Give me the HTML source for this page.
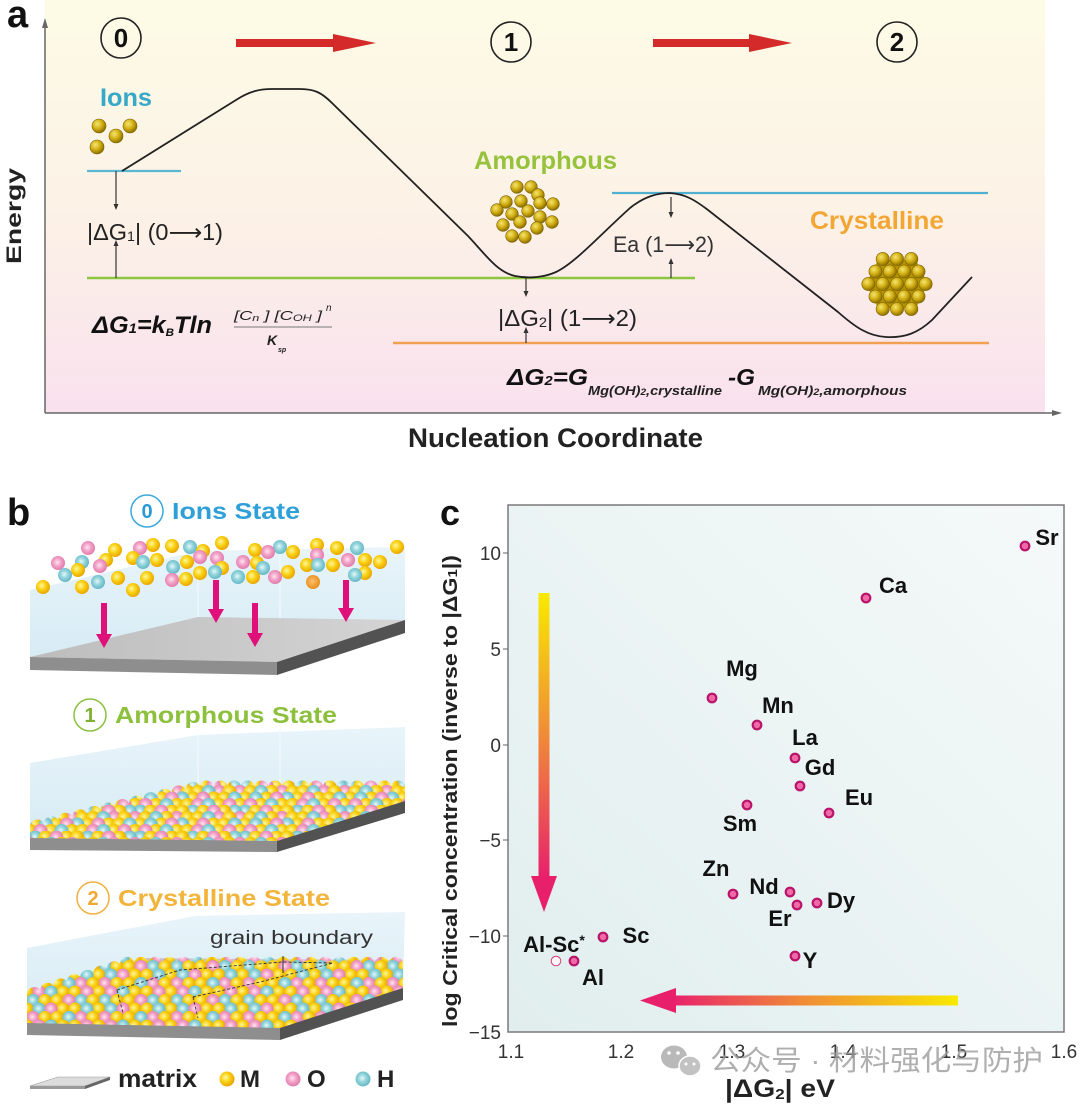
<!DOCTYPE html>
<html><head><meta charset="utf-8">
<style>
html,body{margin:0;padding:0;background:#fff;}
svg{display:block;}
text{font-family:"Liberation Sans","Noto Sans CJK SC",sans-serif;}
</style></head><body>
<svg width="1080" height="1108" viewBox="0 0 1080 1108" xmlns="http://www.w3.org/2000/svg">
<defs>
<linearGradient id="bgA" x1="0" y1="0" x2="0" y2="1">
<stop offset="0" stop-color="#fdfbe6"/>
<stop offset="0.5" stop-color="#fcf2e6"/>
<stop offset="1" stop-color="#f9e1ee"/>
</linearGradient>
<linearGradient id="bgC" x1="0" y1="1" x2="1" y2="0">
<stop offset="0" stop-color="#e1eeee"/>
<stop offset="1" stop-color="#f5f9f9"/>
</linearGradient>
<linearGradient id="glass" x1="0" y1="0" x2="0" y2="1">
<stop offset="0" stop-color="#e8f4fa"/>
<stop offset="1" stop-color="#d6ebf4"/>
</linearGradient>
<linearGradient id="slabTop" x1="0" y1="0" x2="1" y2="0">
<stop offset="0" stop-color="#bdbdbd"/>
<stop offset="1" stop-color="#d4d4d4"/>
</linearGradient>
<linearGradient id="vArrow" x1="0" y1="0" x2="0" y2="1">
<stop offset="0" stop-color="#f8ea00"/>
<stop offset="0.5" stop-color="#f08a38"/>
<stop offset="1" stop-color="#e8206c"/>
</linearGradient>
<linearGradient id="hArrow" x1="0" y1="0" x2="1" y2="0">
<stop offset="0" stop-color="#e8206c"/>
<stop offset="0.45" stop-color="#f08a38"/>
<stop offset="1" stop-color="#f8ea00"/>
</linearGradient>
<radialGradient id="gold" cx="0.38" cy="0.35" r="0.65">
<stop offset="0" stop-color="#f4e670"/>
<stop offset="0.55" stop-color="#d2ae12"/>
<stop offset="1" stop-color="#8c7000"/>
</radialGradient>
<radialGradient id="yb" cx="0.4" cy="0.4" r="0.6">
<stop offset="0" stop-color="#fff6a0"/>
<stop offset="0.5" stop-color="#f9d215"/>
<stop offset="1" stop-color="#eaa600"/>
</radialGradient>
<radialGradient id="pb" cx="0.45" cy="0.45" r="0.6">
<stop offset="0" stop-color="#fde6f0"/>
<stop offset="0.45" stop-color="#f3a2c8"/>
<stop offset="1" stop-color="#dc74a6"/>
</radialGradient>
<radialGradient id="cb" cx="0.45" cy="0.45" r="0.6">
<stop offset="0" stop-color="#e6f8f8"/>
<stop offset="0.45" stop-color="#92d4dc"/>
<stop offset="1" stop-color="#5eb2c0"/>
</radialGradient>
<radialGradient id="ob" cx="0.45" cy="0.45" r="0.6">
<stop offset="0" stop-color="#fbc070"/>
<stop offset="1" stop-color="#e88a10"/>
</radialGradient>

<!-- amorphous ball pattern -->
<pattern id="pa" patternUnits="userSpaceOnUse" x="30" y="779" width="105" height="26">
<g fill="url(#yb)"><circle cx="0" cy="0" r="7"/><circle cx="21" cy="0" r="7"/><circle cx="42" cy="0" r="7"/><circle cx="52.5" cy="0" r="7"/><circle cx="84" cy="0" r="7"/><circle cx="105" cy="0" r="7"/></g>
<g fill="url(#pb)"><circle cx="10.5" cy="0" r="7"/><circle cx="63" cy="0" r="7"/><circle cx="94.5" cy="0" r="7"/></g>
<g fill="url(#cb)"><circle cx="31.5" cy="0" r="7"/><circle cx="73.5" cy="0" r="7"/></g>

<g fill="url(#cb)"><circle cx="5.25" cy="6.5" r="7"/><circle cx="57.75" cy="6.5" r="7"/><circle cx="99.75" cy="6.5" r="7"/><circle cx="-5.25" cy="6.5" r="7"/></g>
<g fill="url(#yb)"><circle cx="15.75" cy="6.5" r="7"/><circle cx="36.75" cy="6.5" r="7"/><circle cx="47.25" cy="6.5" r="7"/><circle cx="68.25" cy="6.5" r="7"/><circle cx="89.25" cy="6.5" r="7"/></g>
<g fill="url(#pb)"><circle cx="26.25" cy="6.5" r="7"/><circle cx="78.75" cy="6.5" r="7"/></g>

<g fill="url(#pb)"><circle cx="0" cy="13" r="7"/><circle cx="42" cy="13" r="7"/><circle cx="84" cy="13" r="7"/><circle cx="105" cy="13" r="7"/></g>
<g fill="url(#yb)"><circle cx="10.5" cy="13" r="7"/><circle cx="31.5" cy="13" r="7"/><circle cx="52.5" cy="13" r="7"/><circle cx="63" cy="13" r="7"/><circle cx="94.5" cy="13" r="7"/></g>
<g fill="url(#cb)"><circle cx="21" cy="13" r="7"/><circle cx="73.5" cy="13" r="7"/></g>

<g fill="url(#yb)"><circle cx="5.25" cy="19.5" r="7"/><circle cx="26.25" cy="19.5" r="7"/><circle cx="57.75" cy="19.5" r="7"/><circle cx="78.75" cy="19.5" r="7"/><circle cx="89.25" cy="19.5" r="7"/></g>
<g fill="url(#cb)"><circle cx="15.75" cy="19.5" r="7"/><circle cx="47.25" cy="19.5" r="7"/><circle cx="99.75" cy="19.5" r="7"/><circle cx="-5.25" cy="19.5" r="7"/></g>
<g fill="url(#pb)"><circle cx="36.75" cy="19.5" r="7"/><circle cx="68.25" cy="19.5" r="7"/></g>

<g fill="url(#yb)"><circle cx="0" cy="26" r="7"/><circle cx="21" cy="26" r="7"/><circle cx="42" cy="26" r="7"/><circle cx="52.5" cy="26" r="7"/><circle cx="84" cy="26" r="7"/><circle cx="105" cy="26" r="7"/></g>
<g fill="url(#pb)"><circle cx="10.5" cy="26" r="7"/><circle cx="63" cy="26" r="7"/><circle cx="94.5" cy="26" r="7"/></g>
<g fill="url(#cb)"><circle cx="31.5" cy="26" r="7"/><circle cx="73.5" cy="26" r="7"/></g>
</pattern>

<!-- crystalline ball pattern -->
<pattern id="pc" patternUnits="userSpaceOnUse" x="27" y="958" width="72" height="34">
<g fill="url(#yb)"><circle cx="0" cy="0" r="6.5"/><circle cx="36" cy="0" r="6.5"/><circle cx="48" cy="0" r="6.5"/><circle cx="72" cy="0" r="6.5"/></g>
<g fill="url(#pb)"><circle cx="12" cy="0" r="6.5"/><circle cx="60" cy="0" r="6.5"/></g>
<g fill="url(#cb)"><circle cx="24" cy="0" r="6.5"/></g>

<g fill="url(#cb)"><circle cx="6" cy="8.5" r="6.5"/><circle cx="54" cy="8.5" r="6.5"/></g>
<g fill="url(#yb)"><circle cx="18" cy="8.5" r="6.5"/><circle cx="30" cy="8.5" r="6.5"/><circle cx="66" cy="8.5" r="6.5"/><circle cx="-6" cy="8.5" r="6.5"/></g>
<g fill="url(#pb)"><circle cx="42" cy="8.5" r="6.5"/></g>

<g fill="url(#yb)"><circle cx="0" cy="17" r="6.5"/><circle cx="36" cy="17" r="6.5"/><circle cx="48" cy="17" r="6.5"/><circle cx="72" cy="17" r="6.5"/></g>
<g fill="url(#cb)"><circle cx="12" cy="17" r="6.5"/><circle cx="60" cy="17" r="6.5"/></g>
<g fill="url(#pb)"><circle cx="24" cy="17" r="6.5"/></g>

<g fill="url(#pb)"><circle cx="6" cy="25.5" r="6.5"/><circle cx="54" cy="25.5" r="6.5"/></g>
<g fill="url(#yb)"><circle cx="18" cy="25.5" r="6.5"/><circle cx="30" cy="25.5" r="6.5"/><circle cx="66" cy="25.5" r="6.5"/><circle cx="-6" cy="25.5" r="6.5"/></g>
<g fill="url(#cb)"><circle cx="42" cy="25.5" r="6.5"/></g>

<g fill="url(#yb)"><circle cx="0" cy="34" r="6.5"/><circle cx="36" cy="34" r="6.5"/><circle cx="48" cy="34" r="6.5"/><circle cx="72" cy="34" r="6.5"/></g>
<g fill="url(#pb)"><circle cx="12" cy="34" r="6.5"/><circle cx="60" cy="34" r="6.5"/></g>
<g fill="url(#cb)"><circle cx="24" cy="34" r="6.5"/></g>
</pattern>
</defs>

<rect width="1080" height="1108" fill="#fff"/>

<!-- ================= PANEL A ================= -->
<rect x="45" y="0" width="1000" height="413" fill="url(#bgA)"/>
<line x1="45" y1="413" x2="45" y2="26" stroke="#666" stroke-width="1.5"/>
<polygon points="42,28 48,28 45,18" fill="#666"/>
<line x1="45" y1="413" x2="1054" y2="413" stroke="#666" stroke-width="1.5"/>
<polygon points="1052,410 1052,416 1062,413" fill="#666"/>

<text x="7" y="27" font-size="38" font-weight="bold" fill="#111">a</text>

<circle cx="121" cy="38" r="20" fill="none" stroke="#222" stroke-width="1.6"/>
<text x="121" y="47" font-size="26" font-weight="bold" text-anchor="middle" fill="#111">0</text>
<circle cx="511" cy="42" r="20" fill="none" stroke="#222" stroke-width="1.6"/>
<text x="511" y="51" font-size="26" font-weight="bold" text-anchor="middle" fill="#111">1</text>
<circle cx="897" cy="42" r="20" fill="none" stroke="#222" stroke-width="1.6"/>
<text x="897" y="51" font-size="26" font-weight="bold" text-anchor="middle" fill="#111">2</text>

<rect x="236" y="39" width="99" height="8" fill="#d42a2a"/>
<polygon points="333,34 376,43 333,52" fill="#d42a2a"/>
<rect x="653" y="39" width="98" height="8" fill="#d42a2a"/>
<polygon points="749,34 792,43 749,52" fill="#d42a2a"/>

<text x="100" y="106" font-size="25" font-weight="bold" fill="#36a8c8" textLength="52" lengthAdjust="spacingAndGlyphs">Ions</text>
<g stroke="#7a6000" stroke-width="0.6" fill="url(#gold)">
<circle cx="99" cy="126" r="7"/>
<circle cx="130" cy="126" r="7"/>
<circle cx="116" cy="136" r="7"/>
<circle cx="97" cy="147" r="7"/>
</g>

<line x1="87" y1="171" x2="181" y2="171" stroke="#5bb8d4" stroke-width="2.2"/>
<line x1="87" y1="278" x2="695" y2="278" stroke="#8dc63f" stroke-width="2.5"/>
<line x1="612" y1="193" x2="988" y2="193" stroke="#4fb0d0" stroke-width="2.2"/>
<line x1="393" y1="343" x2="989" y2="343" stroke="#f0a050" stroke-width="2.5"/>

<path d="M122,171 L236,100 C250,91 260,89 272,89 L300,89 C315,89 322,93 332,103 L468,236 C485,254 497,272 515,276 C530,279 545,277 556,272 C575,263 600,235 630,208 C645,196 658,193 670,193 C685,194 695,200 708,210 L838,312 C855,327 868,336 886,337 C905,338 918,333 932,320 L972,277" fill="none" stroke="#222" stroke-width="1.8"/>

<g stroke="#333" stroke-width="1.2" fill="#333">
<line x1="116" y1="171" x2="116" y2="205"/><polygon points="113.5,204 118.5,204 116,210" stroke="none"/>
<line x1="116" y1="278" x2="116" y2="245"/><polygon points="113.5,246 118.5,246 116,240" stroke="none"/>
<line x1="671" y1="197" x2="671" y2="213"/><polygon points="668.5,212 673.5,212 671,218" stroke="none"/>
<line x1="671" y1="278" x2="671" y2="263"/><polygon points="668.5,264 673.5,264 671,258" stroke="none"/>
<line x1="526" y1="278" x2="526" y2="292"/><polygon points="523.5,291 528.5,291 526,297" stroke="none"/>
<line x1="526" y1="343" x2="526" y2="332"/><polygon points="523.5,333 528.5,333 526,327" stroke="none"/>
</g>

<text x="87" y="240" font-size="23" fill="#222" textLength="136" lengthAdjust="spacingAndGlyphs">|ΔG<tspan font-size="14" dy="1">1</tspan><tspan dy="-1">| (0</tspan><tspan font-family="DejaVu Sans, sans-serif">⟶</tspan>1)</text>
<text x="613" y="252" font-size="22" fill="#333" textLength="101" lengthAdjust="spacingAndGlyphs">Ea (1<tspan font-family="DejaVu Sans, sans-serif">⟶</tspan>2)</text>
<text x="498" y="326" font-size="23" fill="#222" textLength="139" lengthAdjust="spacingAndGlyphs">|ΔG<tspan font-size="14" dy="1">2</tspan><tspan dy="-1">| (1</tspan><tspan font-family="DejaVu Sans, sans-serif">⟶</tspan>2)</text>

<text x="474" y="169" font-size="25" font-weight="bold" fill="#96c23c" textLength="143" lengthAdjust="spacingAndGlyphs">Amorphous</text>
<text x="810" y="229" font-size="25" font-weight="bold" fill="#f2a634" textLength="134" lengthAdjust="spacingAndGlyphs">Crystalline</text>

<g stroke="#7a6000" stroke-width="0.6" fill="url(#gold)">
<circle cx="517" cy="187" r="6.3"/><circle cx="531" cy="187" r="6.3"/><circle cx="538" cy="195" r="6.3"/>
<circle cx="506" cy="202" r="6.3"/><circle cx="521" cy="201" r="6.3"/><circle cx="540" cy="203" r="6.3"/>
<circle cx="553" cy="204" r="6.3"/><circle cx="497" cy="210" r="6.3"/><circle cx="528" cy="211" r="6.3"/>
<circle cx="512" cy="214" r="6.3"/><circle cx="540" cy="217" r="6.3"/><circle cx="552" cy="222" r="6.3"/>
<circle cx="520" cy="222" r="6.3"/><circle cx="503" cy="225" r="6.3"/><circle cx="537" cy="228" r="6.3"/>
<circle cx="512" cy="236" r="6.3"/><circle cx="525" cy="237" r="6.3"/>
</g>

<polygon points="878,260 916,260 928,284 916,308 878,308 866,284" fill="#b89400"/>
<g stroke="#7a6000" stroke-width="0.6" fill="url(#gold)">
<circle cx="882.7" cy="259" r="6.6"/><circle cx="897" cy="259" r="6.6"/><circle cx="911.3" cy="259" r="6.6"/>
<circle cx="875.5" cy="271.5" r="6.6"/><circle cx="889.8" cy="271.5" r="6.6"/><circle cx="904.2" cy="271.5" r="6.6"/><circle cx="918.5" cy="271.5" r="6.6"/>
<circle cx="868.4" cy="284" r="6.6"/><circle cx="882.7" cy="284" r="6.6"/><circle cx="897" cy="284" r="6.6"/><circle cx="911.3" cy="284" r="6.6"/><circle cx="925.6" cy="284" r="6.6"/>
<circle cx="875.5" cy="296.5" r="6.6"/><circle cx="889.8" cy="296.5" r="6.6"/><circle cx="904.2" cy="296.5" r="6.6"/><circle cx="918.5" cy="296.5" r="6.6"/>
<circle cx="882.7" cy="309" r="6.6"/><circle cx="897" cy="309" r="6.6"/><circle cx="911.3" cy="309" r="6.6"/>
</g>

<text x="92" y="333" font-size="24" font-weight="bold" font-style="italic" fill="#111" textLength="120" lengthAdjust="spacingAndGlyphs">ΔG<tspan font-size="14">1</tspan>=k<tspan font-size="11" dy="3">B</tspan><tspan dy="-3">Tln</tspan></text>
<text x="234" y="320" font-size="13" font-style="italic" fill="#222" textLength="88" lengthAdjust="spacingAndGlyphs">[C<tspan font-size="9" dy="1">n</tspan><tspan dy="-1"> ] [C</tspan><tspan font-size="9" dy="1">OH</tspan><tspan dy="-1"> ]</tspan></text>
<text x="326" y="311" font-size="10" font-style="italic" fill="#222">n</text>
<line x1="234" y1="327" x2="332" y2="327" stroke="#777" stroke-width="1"/>
<text x="267" y="345" font-size="14" font-weight="bold" font-style="italic" fill="#222">K</text>
<text x="278" y="352" font-size="7" font-weight="bold" font-style="italic" fill="#222">sp</text>

<text x="507" y="385" font-size="23" font-weight="bold" font-style="italic" fill="#111" textLength="81" lengthAdjust="spacingAndGlyphs">ΔG<tspan font-size="13">2</tspan>=G</text>
<text x="588" y="395" font-size="13" font-weight="bold" font-style="italic" fill="#222" textLength="134" lengthAdjust="spacingAndGlyphs">Mg(OH)<tspan font-size="9">2</tspan>,crystalline</text>
<text x="728" y="385" font-size="23" font-weight="bold" font-style="italic" fill="#111" textLength="27" lengthAdjust="spacingAndGlyphs">-G</text>
<text x="758" y="395" font-size="13" font-weight="bold" font-style="italic" fill="#222" textLength="149" lengthAdjust="spacingAndGlyphs">Mg(OH)<tspan font-size="9">2</tspan>,amorphous</text>

<text x="408" y="447" font-size="27" font-weight="bold" fill="#222" textLength="295" lengthAdjust="spacingAndGlyphs">Nucleation Coordinate</text>
<text transform="translate(21,216) rotate(-90)" text-anchor="middle" font-size="21" font-weight="bold" fill="#222" textLength="96" lengthAdjust="spacingAndGlyphs">Energy</text>

<!-- ================= PANEL B ================= -->
<text x="7" y="525" font-size="38" font-weight="bold" fill="#111">b</text>

<circle cx="147" cy="511" r="16" fill="none" stroke="#3aa8dc" stroke-width="1.5"/>
<text x="147" y="518" font-size="20" font-weight="bold" fill="#2a9ad5" text-anchor="middle">0</text>
<text x="172" y="519" font-size="23" font-weight="bold" fill="#2e9fd8" textLength="128" lengthAdjust="spacingAndGlyphs">Ions State</text>

<circle cx="90" cy="715" r="16" fill="none" stroke="#8cc040" stroke-width="1.5"/>
<text x="90" y="722" font-size="20" font-weight="bold" fill="#7cb030" text-anchor="middle">1</text>
<text x="115" y="723" font-size="23" font-weight="bold" fill="#8dc03c" textLength="222" lengthAdjust="spacingAndGlyphs">Amorphous State</text>

<circle cx="93" cy="898" r="16" fill="none" stroke="#f0b040" stroke-width="1.5"/>
<text x="93" y="905" font-size="20" font-weight="bold" fill="#f0a830" text-anchor="middle">2</text>
<text x="118" y="906" font-size="23" font-weight="bold" fill="#f2b43a" textLength="212" lengthAdjust="spacingAndGlyphs">Crystalline State</text>

<!-- Ions state box -->
<polygon points="30,590 198,551 405,547 405,620 277,662 30,657" fill="url(#glass)"/>
<line x1="198" y1="551" x2="198" y2="617" stroke="#eef8fc" stroke-width="1.5"/>
<line x1="280" y1="547" x2="280" y2="662" stroke="#eef8fc" stroke-width="1.5"/>
<polygon points="30,657 198,617 405,620 277,662" fill="url(#slabTop)"/>
<polygon points="30,657 277,662 277,675 30,670" fill="#8e8e8e"/>
<polygon points="277,662 405,620 405,633 277,675" fill="#525252"/>
<g>
<circle cx="222" cy="543" r="7" fill="url(#yb)"/>
<circle cx="153" cy="545" r="7" fill="url(#yb)"/>
<circle cx="317" cy="545" r="7" fill="url(#yb)"/>
<circle cx="172" cy="546" r="7" fill="url(#yb)"/>
<circle cx="190" cy="547" r="7" fill="url(#cb)"/>
<circle cx="280" cy="547" r="7" fill="url(#cb)"/>
<circle cx="397" cy="547" r="7" fill="url(#yb)"/>
<circle cx="88" cy="548" r="7" fill="url(#pb)"/>
<circle cx="140" cy="548" r="7" fill="url(#pb)"/>
<circle cx="337" cy="548" r="7" fill="url(#yb)"/>
<circle cx="357" cy="548" r="7" fill="url(#cb)"/>
<circle cx="115" cy="550" r="7" fill="url(#yb)"/>
<circle cx="255" cy="550" r="7" fill="url(#yb)"/>
<circle cx="203" cy="551" r="7" fill="url(#yb)"/>
<circle cx="268" cy="552" r="7" fill="url(#pb)"/>
<circle cx="293" cy="552" r="7" fill="url(#yb)"/>
<circle cx="317" cy="555" r="7" fill="url(#pb)"/>
<circle cx="200" cy="557" r="7" fill="url(#pb)"/>
<circle cx="133" cy="558" r="7" fill="url(#yb)"/>
<circle cx="217" cy="558" r="7" fill="url(#pb)"/>
<circle cx="106" cy="560" r="7" fill="url(#yb)"/>
<circle cx="157" cy="560" r="7" fill="url(#yb)"/>
<circle cx="348" cy="560" r="7" fill="url(#pb)"/>
<circle cx="365" cy="560" r="7" fill="url(#yb)"/>
<circle cx="82" cy="562" r="7" fill="url(#cb)"/>
<circle cx="143" cy="562" r="7" fill="url(#cb)"/>
<circle cx="187" cy="562" r="7" fill="url(#yb)"/>
<circle cx="243" cy="562" r="7" fill="url(#pb)"/>
<circle cx="380" cy="562" r="7" fill="url(#yb)"/>
<circle cx="58" cy="563" r="7" fill="url(#pb)"/>
<circle cx="257" cy="563" r="7" fill="url(#yb)"/>
<circle cx="307" cy="565" r="7" fill="url(#yb)"/>
<circle cx="318" cy="565" r="7" fill="url(#cb)"/>
<circle cx="333" cy="565" r="7" fill="url(#yb)"/>
<circle cx="100" cy="566" r="7" fill="url(#pb)"/>
<circle cx="173" cy="567" r="7" fill="url(#cb)"/>
<circle cx="263" cy="568" r="7" fill="url(#cb)"/>
<circle cx="222" cy="568" r="7" fill="url(#yb)"/>
<circle cx="78" cy="570" r="7" fill="url(#yb)"/>
<circle cx="215" cy="572" r="7" fill="url(#cb)"/>
<circle cx="288" cy="572" r="7" fill="url(#yb)"/>
<circle cx="200" cy="573" r="7" fill="url(#yb)"/>
<circle cx="365" cy="573" r="7" fill="url(#yb)"/>
<circle cx="65" cy="575" r="7" fill="url(#cb)"/>
<circle cx="355" cy="575" r="7" fill="url(#cb)"/>
<circle cx="238" cy="577" r="7" fill="url(#cb)"/>
<circle cx="253" cy="577" r="7" fill="url(#yb)"/>
<circle cx="275" cy="577" r="7" fill="url(#pb)"/>
<circle cx="118" cy="578" r="7" fill="url(#yb)"/>
<circle cx="147" cy="578" r="7" fill="url(#yb)"/>
<circle cx="172" cy="580" r="7" fill="url(#pb)"/>
<circle cx="186" cy="579" r="7" fill="url(#yb)"/>
<circle cx="98" cy="582" r="7" fill="url(#cb)"/>
<circle cx="313" cy="582" r="7" fill="url(#ob)"/>
<circle cx="43" cy="587" r="7" fill="url(#yb)"/>
<circle cx="82" cy="587" r="7" fill="url(#yb)"/>
<circle cx="133" cy="590" r="7" fill="url(#yb)"/>
</g>
<g fill="#e0107a">
<rect x="101" y="603" width="6" height="33"/><polygon points="96,634 112,634 104,648"/>
<rect x="213" y="580" width="6" height="31"/><polygon points="208,609 224,609 216,623"/>
<rect x="252" y="603" width="6" height="32"/><polygon points="247,633 263,633 255,647"/>
<rect x="343" y="580" width="6" height="30"/><polygon points="338,608 354,608 346,622"/>
</g>

<!-- Amorphous state box -->
<polygon points="30,763 198,735 405,727 405,800 277,840 30,837" fill="url(#glass)"/>
<line x1="198" y1="735" x2="198" y2="797" stroke="#eef8fc" stroke-width="1.5"/>
<line x1="280" y1="729" x2="280" y2="840" stroke="#eef8fc" stroke-width="1.5"/>
<polygon points="30,837 198,797 405,800 277,840" fill="url(#slabTop)"/>
<polygon points="30,837 277,840 277,852 30,850" fill="#8e8e8e"/>
<polygon points="277,840 405,800 405,813 277,852" fill="#525252"/>
<path fill="url(#pa)" d="M30,838 L277,841 L405,801 L405,786
a7 7 0 0 0 -13.67 0 a7 7 0 0 0 -13.67 0 a7 7 0 0 0 -13.67 0 a7 7 0 0 0 -13.67 0 a7 7 0 0 0 -13.67 0
a7 7 0 0 0 -13.67 0 a7 7 0 0 0 -13.67 0 a7 7 0 0 0 -13.67 0 a7 7 0 0 0 -13.67 0 a7 7 0 0 0 -13.67 0
a7 7 0 0 0 -13.67 0 a7 7 0 0 0 -13.67 0 a7 7 0 0 0 -13.67 0 a7 7 0 0 0 -13.67 0 a7 7 0 0 0 -13.67 0
a7.5 7.5 0 0 0 -14.17 3.42 a7.5 7.5 0 0 0 -14.17 3.42 a7.5 7.5 0 0 0 -14.17 3.42 a7.5 7.5 0 0 0 -14.17 3.42
a7.5 7.5 0 0 0 -14.17 3.42 a7.5 7.5 0 0 0 -14.17 3.42 a7.5 7.5 0 0 0 -14.17 3.42 a7.5 7.5 0 0 0 -14.17 3.42
a7.5 7.5 0 0 0 -14.17 3.42 a7.5 7.5 0 0 0 -14.17 3.42 a7.5 7.5 0 0 0 -14.17 3.42 a7.5 7.5 0 0 0 -14.17 3.42 Z"/>

<!-- Crystalline state box -->
<polygon points="27,948 195,916 405,912 403,987 280,1027 27,1022" fill="url(#glass)"/>
<polygon points="27,1022 140,958 403,960 280,1027" fill="url(#slabTop)"/>
<polygon points="27,1022 280,1027 280,1040 27,1035" fill="#8e8e8e"/>
<polygon points="280,1027 403,987 403,1000 280,1040" fill="#525252"/>
<path fill="url(#pc)" d="M27,1023 L280,1028 L403,988 L403,964
a7 7 0 0 0 -14.15 0 a7 7 0 0 0 -14.15 0 a7 7 0 0 0 -14.15 0 a7 7 0 0 0 -14.15 0 a7 7 0 0 0 -14.15 0
a7 7 0 0 0 -14.15 0 a7 7 0 0 0 -14.15 0 a7 7 0 0 0 -14.15 0 a7 7 0 0 0 -14.15 0 a7 7 0 0 0 -14.15 0
a7 7 0 0 0 -14.15 0 a7 7 0 0 0 -14.15 0 a7 7 0 0 0 -14.15 0 a7 7 0 0 0 -14.15 0 a7 7 0 0 0 -14.15 0
a7 7 0 0 0 -14.15 0 a7 7 0 0 0 -14.15 0 a7 7 0 0 0 -14.15 0 a7 7 0 0 0 -14.15 0 a7 7 0 0 0 -14.15 0
a7.5 7.5 0 0 0 -13.29 4.29 a7.5 7.5 0 0 0 -13.29 4.29 a7.5 7.5 0 0 0 -13.29 4.29 a7.5 7.5 0 0 0 -13.29 4.29
a7.5 7.5 0 0 0 -13.29 4.29 a7.5 7.5 0 0 0 -13.29 4.29 a7.5 7.5 0 0 0 -13.29 4.29 Z"/>
<text x="210" y="944" font-size="19" fill="#333" textLength="163" lengthAdjust="spacingAndGlyphs">grain boundary</text>
<g stroke="#333" stroke-width="0.9" fill="none" stroke-dasharray="3,2">
<polyline points="117,990 123,1013"/>
<polyline points="117,990 180,970 283,962 333,963"/>
<polyline points="193,997 260,982 333,963"/>
<polyline points="193,997 198,1018"/>
</g>
<line x1="283" y1="956" x2="283" y2="973" stroke="#333" stroke-width="1"/>

<!-- legend -->
<polygon points="30,1086 58,1077 110,1077 85,1086" fill="#dcdcdc" stroke="#999" stroke-width="0.6"/>
<polygon points="30,1086 85,1086 85,1089 30,1089" fill="#9a9a9a"/>
<polygon points="85,1086 110,1077 110,1080 85,1089" fill="#666"/>
<text x="118" y="1087" font-size="25" font-weight="bold" fill="#222" textLength="79" lengthAdjust="spacingAndGlyphs">matrix</text>
<circle cx="227" cy="1079" r="7.5" fill="url(#yb)"/>
<text x="240" y="1087" font-size="24" font-weight="bold" fill="#222">M</text>
<circle cx="293" cy="1079" r="7.5" fill="url(#pb)"/>
<text x="307" y="1087" font-size="24" font-weight="bold" fill="#222">O</text>
<circle cx="363" cy="1079" r="7.5" fill="url(#cb)"/>
<text x="377" y="1087" font-size="24" font-weight="bold" fill="#222">H</text>

<!-- ================= PANEL C ================= -->
<text x="440" y="525" font-size="36" font-weight="bold" fill="#111">c</text>
<rect x="508" y="505" width="556" height="527" fill="url(#bgC)" stroke="#7a7a7a" stroke-width="1.5"/>

<g font-size="19" fill="#333" text-anchor="end">
<text x="501" y="560">10</text>
<text x="501" y="656">5</text>
<text x="501" y="752">0</text>
<text x="501" y="847">−5</text>
<text x="501" y="943">−10</text>
<text x="501" y="1039">−15</text>
</g>
<g stroke="#666" stroke-width="1">
<line x1="503" y1="553" x2="508" y2="553"/><line x1="503" y1="649" x2="508" y2="649"/>
<line x1="503" y1="745" x2="508" y2="745"/><line x1="503" y1="840" x2="508" y2="840"/>
<line x1="503" y1="936" x2="508" y2="936"/>
</g>
<g font-size="19" fill="#333" text-anchor="middle">
<text x="511" y="1058">1.1</text>
<text x="621" y="1058">1.2</text>
<text x="732" y="1058">1.3</text>
<text x="843" y="1058">1.4</text>
<text x="954" y="1058">1.5</text>
<text x="1064" y="1058">1.6</text>
</g>

<text transform="translate(457,791) rotate(-90)" text-anchor="middle" font-size="20" font-weight="bold" fill="#222" textLength="472" lengthAdjust="spacingAndGlyphs">log Critical concentration (inverse to |ΔG<tspan font-size="13">1</tspan>|)</text>
<text x="725" y="1097" font-size="25" font-weight="bold" fill="#222" textLength="110" lengthAdjust="spacingAndGlyphs">|ΔG<tspan font-size="15" dy="2">2</tspan><tspan dy="-2">| eV</tspan></text>

<rect x="538.5" y="593" width="11" height="286" fill="url(#vArrow)"/>
<polygon points="531,876 557,876 544,912" fill="#e8206c"/>
<rect x="672" y="995.5" width="286" height="10" fill="url(#hArrow)"/>
<polygon points="676,988 676,1013 640,1000.5" fill="#e8206c"/>

<g fill="#f06aa8" stroke="#b8146a" stroke-width="2.2">
<circle cx="1025" cy="546" r="4.3"/>
<circle cx="866" cy="598" r="4.3"/>
<circle cx="712" cy="698" r="4.3"/>
<circle cx="757" cy="725" r="4.3"/>
<circle cx="795" cy="758" r="4.3"/>
<circle cx="800" cy="786" r="4.3"/>
<circle cx="747" cy="805" r="4.3"/>
<circle cx="829" cy="813" r="4.3"/>
<circle cx="733" cy="894" r="4.3"/>
<circle cx="790" cy="892" r="4.3"/>
<circle cx="797" cy="905" r="4.3"/>
<circle cx="817" cy="903" r="4.3"/>
<circle cx="795" cy="956" r="4.3"/>
<circle cx="603" cy="937" r="4.3"/>
<circle cx="574" cy="961" r="4.3"/>
</g>
<circle cx="556" cy="961" r="4.8" fill="#fdf4f8" stroke="#d04080" stroke-width="1"/>

<g font-size="22" font-weight="bold" fill="#111" text-anchor="middle">
<text x="1047" y="545">Sr</text>
<text x="893" y="593">Ca</text>
<text x="742" y="676">Mg</text>
<text x="778" y="713">Mn</text>
<text x="805" y="745">La</text>
<text x="820" y="775">Gd</text>
<text x="859" y="805">Eu</text>
<text x="740" y="831">Sm</text>
<text x="716" y="876">Zn</text>
<text x="764" y="894">Nd</text>
<text x="841" y="908">Dy</text>
<text x="780" y="926">Er</text>
<text x="810" y="968">Y</text>
<text x="636" y="943">Sc</text>
<text x="554" y="952">Al-Sc<tspan font-size="14" dy="-7">*</tspan></text>
<text x="593" y="985">Al</text>
</g>

<g opacity="0.8">
<ellipse cx="674" cy="1057" rx="13" ry="11.5" fill="#a8a8a8"/>
<ellipse cx="690" cy="1066" rx="11" ry="10" fill="#b4b4b4" stroke="#fff" stroke-width="1.5"/>
<circle cx="669" cy="1053" r="1.8" fill="#fff"/><circle cx="678" cy="1053" r="1.8" fill="#fff"/>
<circle cx="686" cy="1064" r="1.5" fill="#fff"/><circle cx="694" cy="1064" r="1.5" fill="#fff"/>
</g>
<text x="710" y="1070" font-size="28" fill="#9c9c9c" opacity="0.8" textLength="333" lengthAdjust="spacingAndGlyphs">公众号 · 材料强化与防护</text>
</svg>
</body></html>
